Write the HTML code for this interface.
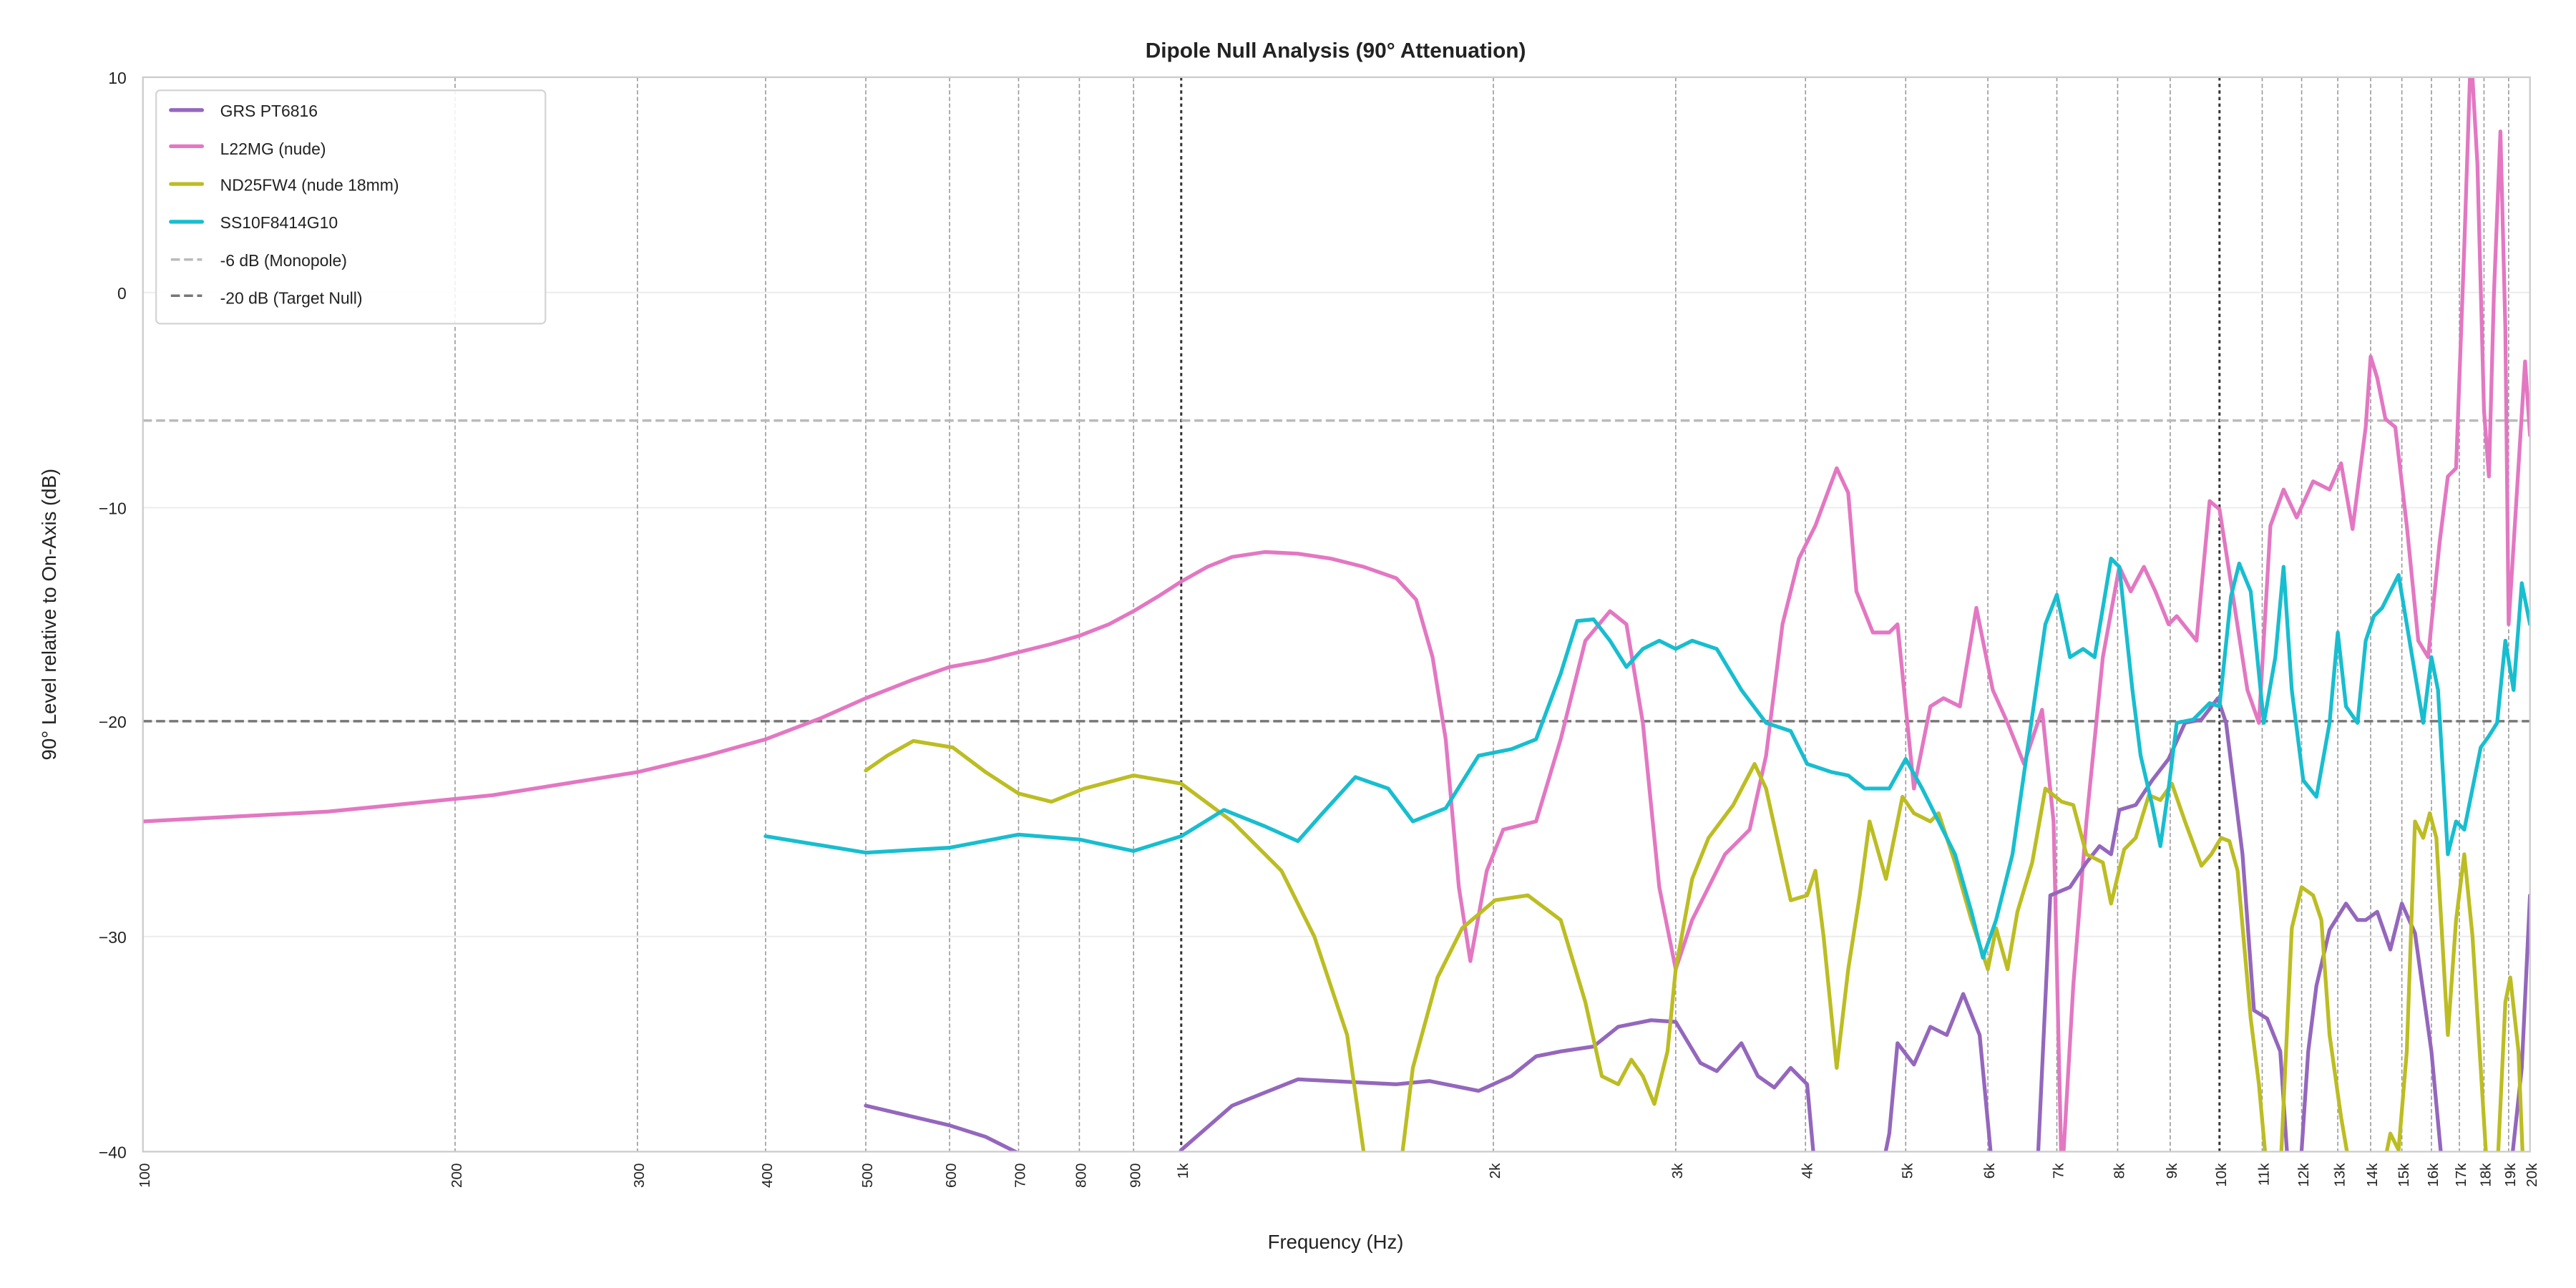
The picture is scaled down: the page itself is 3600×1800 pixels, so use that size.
<!DOCTYPE html>
<html><head><meta charset="utf-8"><style>html,body{margin:0;padding:0;background:#fff}svg{display:block}</style></head>
<body>
<svg width="3600" height="1800" viewBox="0 0 1568 784" xmlns="http://www.w3.org/2000/svg" font-family="Liberation Sans, sans-serif">
<defs><clipPath id="c"><rect x="87" y="47" width="1453" height="654"/></clipPath></defs>
<rect width="1568" height="784" fill="#fff"/>
<g stroke="#ebebeb" stroke-width="0.8">
<line x1="87" x2="1540" y1="178" y2="178"/><line x1="87" x2="1540" y1="309" y2="309"/><line x1="87" x2="1540" y1="439" y2="439"/><line x1="87" x2="1540" y1="570" y2="570"/>
</g>
<g stroke="#999" stroke-width="0.7" stroke-dasharray="2.5,1.5">
<line x1="277" x2="277" y1="47" y2="701"/><line x1="388" x2="388" y1="47" y2="701"/><line x1="466" x2="466" y1="47" y2="701"/><line x1="527" x2="527" y1="47" y2="701"/><line x1="578" x2="578" y1="47" y2="701"/><line x1="620" x2="620" y1="47" y2="701"/><line x1="657" x2="657" y1="47" y2="701"/><line x1="690" x2="690" y1="47" y2="701"/>
<line x1="909" x2="909" y1="47" y2="701"/><line x1="1020" x2="1020" y1="47" y2="701"/><line x1="1099" x2="1099" y1="47" y2="701"/><line x1="1160" x2="1160" y1="47" y2="701"/><line x1="1210" x2="1210" y1="47" y2="701"/><line x1="1252" x2="1252" y1="47" y2="701"/><line x1="1289" x2="1289" y1="47" y2="701"/><line x1="1321" x2="1321" y1="47" y2="701"/>
<line x1="1377" x2="1377" y1="47" y2="701"/><line x1="1401" x2="1401" y1="47" y2="701"/><line x1="1423" x2="1423" y1="47" y2="701"/><line x1="1443" x2="1443" y1="47" y2="701"/><line x1="1462" x2="1462" y1="47" y2="701"/><line x1="1480" x2="1480" y1="47" y2="701"/><line x1="1497" x2="1497" y1="47" y2="701"/><line x1="1512" x2="1512" y1="47" y2="701"/><line x1="1527" x2="1527" y1="47" y2="701"/>
</g>
<g stroke="#333" stroke-width="1.3" stroke-dasharray="2,2"><line x1="719" x2="719" y1="47" y2="701"/><line x1="1351" x2="1351" y1="47" y2="701"/></g>
<line x1="87" x2="1540" y1="256" y2="256" stroke="#bbb" stroke-width="1.5" stroke-dasharray="5.5,2.5"/>
<line x1="87" x2="1540" y1="439" y2="439" stroke="#777" stroke-width="1.5" stroke-dasharray="5.5,2.5"/>
<g clip-path="url(#c)" fill="none" stroke-width="2.3" stroke-linejoin="round" stroke-linecap="round">
<polyline stroke="#e377c2" points="87,500 200,494 300,484 388,470 430,460 466,450 500,437 527,425 555,414 578,406 600,402 620,397 640,392 657,387 675,380 690,372 705,363 719,354 735,345 750,339 770,336 790,337 810,340 830,345 850,352 862,365 872,400 880,450 888,540 895,585 905,530 915,505 935,500 950,450 965,390 980,372 990,380 1000,440 1010,540 1020,590 1030,560 1050,520 1065,505 1075,460 1085,380 1095,340 1105,320 1118,285 1125,300 1130,360 1140,385 1150,385 1155,380 1165,480 1175,430 1183,425 1193,430 1203,370 1213,420 1222,440 1232,465 1243,432 1250,500 1255,720 1262,600 1270,500 1280,400 1290,345 1297,360 1305,345 1312,360 1320,380 1325,375 1337,390 1345,305 1351,310 1358,355 1368,420 1375,440 1382,320 1390,298 1398,315 1408,293 1418,298 1425,282 1432,322 1440,260 1443,217 1447,230 1452,255 1458,260 1465,320 1472,390 1478,400 1485,330 1490,290 1495,285 1500,150 1504,30 1508,100 1512,250 1515,290 1518,180 1522,80 1525,200 1527,380 1532,300 1537,220 1540,265"/>
<polyline stroke="#9467bd" points="527,673 578,685 600,692 620,702 630,715"/>
<polyline stroke="#9467bd" points="712,715 719,700 750,673 790,657 830,659 850,660 870,658 900,664 920,655 935,643 950,640 970,637 985,625 1005,621 1020,622 1035,647 1045,652 1060,635 1070,655 1080,662 1090,650 1100,660 1105,715 1145,715 1150,690 1155,635 1165,648 1175,625 1185,630 1195,605 1205,630 1213,715 1240,715 1248,545 1260,540 1270,525 1278,515 1285,520 1290,493 1300,490 1310,475 1320,462 1330,440 1340,438 1350,425 1355,440 1365,520 1372,615 1380,620 1388,640 1393,715 1400,715 1405,640 1410,600 1418,566 1428,550 1435,560 1440,560 1447,555 1455,578 1462,550 1470,568 1480,640 1487,715 1528,715 1535,650 1540,545"/>
<polyline stroke="#bcbd22" points="527,469 540,460 556,451 580,455 600,470 620,483 640,488 660,480 690,472 719,477 750,500 780,530 800,570 820,630 832,715 852,715 860,650 875,595 890,565 910,548 930,545 950,560 965,610 975,655 985,660 993,645 1000,655 1007,672 1015,640 1020,590 1030,535 1040,510 1055,490 1068,465 1075,480 1090,548 1100,545 1105,530 1110,570 1118,650 1125,590 1132,545 1138,500 1148,535 1158,485 1165,495 1175,500 1180,495 1190,525 1200,560 1210,590 1215,565 1222,590 1228,555 1237,525 1245,480 1255,488 1262,490 1270,520 1280,525 1285,550 1293,517 1300,510 1308,484 1315,487 1322,477 1330,500 1340,527 1346,520 1352,510 1357,512 1362,530 1370,620 1375,660 1380,715 1388,715 1395,565 1401,540 1408,545 1413,560 1418,630 1425,680 1431,715 1450,715 1455,690 1460,700 1465,640 1470,500 1475,510 1479,495 1483,510 1490,630 1495,560 1500,520 1505,570 1510,650 1514,715 1520,715 1525,610 1528,595 1533,640 1536,715"/>
<polyline stroke="#17becf" points="466,509 527,519 578,516 620,508 657,511 690,518 719,509 745,493 770,503 790,512 805,495 825,473 845,480 860,500 880,492 900,460 920,456 935,450 950,410 960,378 970,377 980,390 990,406 1000,395 1010,390 1020,395 1030,390 1045,395 1060,420 1075,440 1090,445 1100,465 1115,470 1125,472 1135,480 1150,480 1160,462 1170,480 1180,500 1190,520 1200,555 1207,583 1215,560 1225,520 1235,450 1245,380 1252,362 1260,400 1268,395 1275,400 1285,340 1290,345 1298,420 1303,460 1310,490 1315,515 1320,480 1325,440 1335,438 1345,428 1351,430 1358,363 1363,343 1370,360 1378,440 1385,400 1390,345 1395,420 1402,475 1410,485 1418,440 1423,385 1428,430 1435,440 1440,390 1445,375 1450,370 1455,360 1460,350 1465,380 1475,440 1480,400 1484,420 1490,520 1495,500 1500,505 1510,455 1515,448 1520,440 1525,390 1530,420 1535,355 1540,380"/>
</g>
<rect x="87" y="47" width="1453" height="654" fill="none" stroke="#ccc" stroke-width="1"/>
<g font-size="10" fill="#222" text-anchor="end">
<text x="77" y="51">10</text><text x="77" y="182">0</text><text x="77" y="313">−10</text><text x="77" y="443">−20</text><text x="77" y="574">−30</text><text x="77" y="705">−40</text>
</g>
<g font-size="9" fill="#222" text-anchor="end">
<text transform="translate(91,708) rotate(-90)">100</text><text transform="translate(281,708) rotate(-90)">200</text><text transform="translate(392,708) rotate(-90)">300</text><text transform="translate(470,708) rotate(-90)">400</text><text transform="translate(531,708) rotate(-90)">500</text><text transform="translate(582,708) rotate(-90)">600</text><text transform="translate(624,708) rotate(-90)">700</text><text transform="translate(661,708) rotate(-90)">800</text><text transform="translate(694,708) rotate(-90)">900</text><text transform="translate(723,708) rotate(-90)">1k</text>
<text transform="translate(913,708) rotate(-90)">2k</text><text transform="translate(1024,708) rotate(-90)">3k</text><text transform="translate(1103,708) rotate(-90)">4k</text><text transform="translate(1164,708) rotate(-90)">5k</text><text transform="translate(1214,708) rotate(-90)">6k</text><text transform="translate(1256,708) rotate(-90)">7k</text><text transform="translate(1293,708) rotate(-90)">8k</text><text transform="translate(1325,708) rotate(-90)">9k</text><text transform="translate(1355,708) rotate(-90)">10k</text>
<text transform="translate(1381,708) rotate(-90)">11k</text><text transform="translate(1405,708) rotate(-90)">12k</text><text transform="translate(1427,708) rotate(-90)">13k</text><text transform="translate(1447,708) rotate(-90)">14k</text><text transform="translate(1466,708) rotate(-90)">15k</text><text transform="translate(1484,708) rotate(-90)">16k</text><text transform="translate(1501,708) rotate(-90)">17k</text><text transform="translate(1516,708) rotate(-90)">18k</text><text transform="translate(1531,708) rotate(-90)">19k</text><text transform="translate(1544,708) rotate(-90)">20k</text>
</g>
<text x="813" y="760" font-size="12" fill="#222" text-anchor="middle">Frequency (Hz)</text>
<text transform="translate(34,374) rotate(-90)" font-size="12" fill="#222" text-anchor="middle">90° Level relative to On-Axis (dB)</text>
<text x="813" y="35" font-size="13" font-weight="bold" fill="#222" text-anchor="middle">Dipole Null Analysis (90° Attenuation)</text>
<rect x="95" y="55" width="237" height="142" rx="2.5" fill="#fff" fill-opacity="0.85" stroke="#d5d5d5" stroke-width="1"/>
<g stroke-width="2.3" stroke-linecap="round">
<line x1="104" x2="123" y1="67" y2="67" stroke="#9467bd"/><line x1="104" x2="123" y1="89" y2="89" stroke="#e377c2"/><line x1="104" x2="123" y1="112" y2="112" stroke="#bcbd22"/><line x1="104" x2="123" y1="135" y2="135" stroke="#17becf"/>
</g>
<line x1="104" x2="123" y1="158" y2="158" stroke="#bbb" stroke-width="1.5" stroke-dasharray="5.5,2.5"/>
<line x1="104" x2="123" y1="180" y2="180" stroke="#777" stroke-width="1.5" stroke-dasharray="5.5,2.5"/>
<g font-size="10" fill="#222">
<text x="134" y="71">GRS PT6816</text><text x="134" y="94">L22MG (nude)</text><text x="134" y="116">ND25FW4 (nude 18mm)</text><text x="134" y="139">SS10F8414G10</text><text x="134" y="162">-6 dB (Monopole)</text><text x="134" y="185">-20 dB (Target Null)</text>
</g>
</svg>
</body></html>
